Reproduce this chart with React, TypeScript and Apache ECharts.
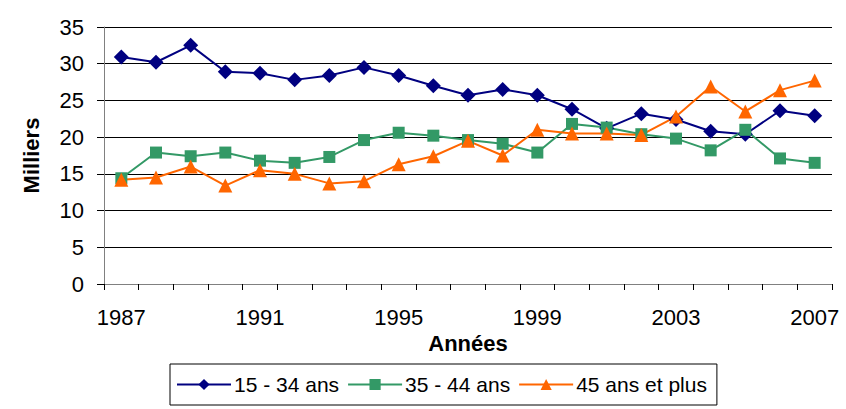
import React, { useEffect, useRef } from "react";
import * as echarts from "echarts";

const years = ["1987","1988","1989","1990","1991","1992","1993","1994","1995","1996","1997","1998","1999","2000","2001","2002","2003","2004","2005","2006","2007"];
const s1534 = [30.9,30.2,32.5,28.9,28.7,27.8,28.4,29.5,28.4,27.0,25.7,26.5,25.7,23.8,21.2,23.2,22.4,20.8,20.4,23.6,22.9];
const s3544 = [14.4,17.9,17.4,17.9,16.8,16.5,17.3,19.6,20.6,20.2,19.6,19.1,17.9,21.8,21.3,20.4,19.8,18.2,21.0,17.1,16.5];
const s45 = [14.2,14.5,16.0,13.4,15.5,15.0,13.7,14.0,16.3,17.4,19.5,17.5,21.0,20.5,20.5,20.3,22.8,26.9,23.5,26.4,27.7];

const FONT = "'Liberation Sans', Arial, sans-serif";

export default function App() {
  const ref = useRef<HTMLDivElement>(null);
  useEffect(() => {
    const chart = echarts.init(ref.current!, null, { renderer: "svg" });
    chart.setOption({
      animation: false,
      textStyle: { fontFamily: FONT },
      grid: { left: 104, right: 14, top: 27, bottom: 125, containLabel: false },
      xAxis: {
        type: "category",
        data: years,
        boundaryGap: true,
        name: "Années",
        nameLocation: "middle",
        nameGap: 41,
        nameTextStyle: { fontSize: 22, fontWeight: "bold", color: "#000", fontFamily: FONT },
        axisLine: { lineStyle: { color: "#808080", width: 1 } },
        axisTick: { show: true, interval: 0, length: 6, lineStyle: { color: "#000" } },
        axisLabel: { interval: 3, fontSize: 22, color: "#000", margin: 22, fontFamily: FONT },
        splitLine: { show: false },
      },
      yAxis: {
        type: "value",
        min: 0,
        max: 35,
        interval: 5,
        name: "Milliers",
        nameLocation: "middle",
        nameGap: 62,
        nameRotate: 90,
        nameTextStyle: { fontSize: 22, fontWeight: "bold", color: "#000", fontFamily: FONT },
        axisLine: { show: true, lineStyle: { color: "#808080", width: 1 } },
        axisTick: { show: true, length: 7, lineStyle: { color: "#000" } },
        axisLabel: { fontSize: 22, color: "#000", margin: 20, fontFamily: FONT },
        splitLine: { show: true, lineStyle: { color: "#000", width: 1 } },
      },
      legend: {
        left: 170,
        top: 364,
        orient: "horizontal",
        borderColor: "#000",
        borderWidth: 1,
        padding: [10, 10, 10, 6],
        itemGap: 8,
        itemWidth: 54,
        itemHeight: 14,
        textStyle: { fontSize: 21, color: "#000", fontFamily: FONT, padding: [0, 0, 0, -2] },
      },
      series: [
        {
          name: "15 - 34 ans",
          type: "line",
          data: s1534,
          symbol: "diamond",
          symbolSize: 15,
          color: "#000080",
          lineStyle: { color: "#000080", width: 2 },
          itemStyle: { color: "#000080" },
        },
        {
          name: "35 - 44 ans",
          type: "line",
          data: s3544,
          symbol: "rect",
          symbolSize: 12,
          color: "#339966",
          lineStyle: { color: "#339966", width: 2 },
          itemStyle: { color: "#339966" },
        },
        {
          name: "45 ans et plus",
          type: "line",
          data: s45,
          symbol: "triangle",
          symbolSize: 14,
          color: "#FF6600",
          lineStyle: { color: "#FF6600", width: 2 },
          itemStyle: { color: "#FF6600" },
        },
      ],
    });
    return () => chart.dispose();
  }, []);
  return <div ref={ref} style={{ width: 846, height: 409, position: "absolute", left: 0, top: 0 }} />;
}
